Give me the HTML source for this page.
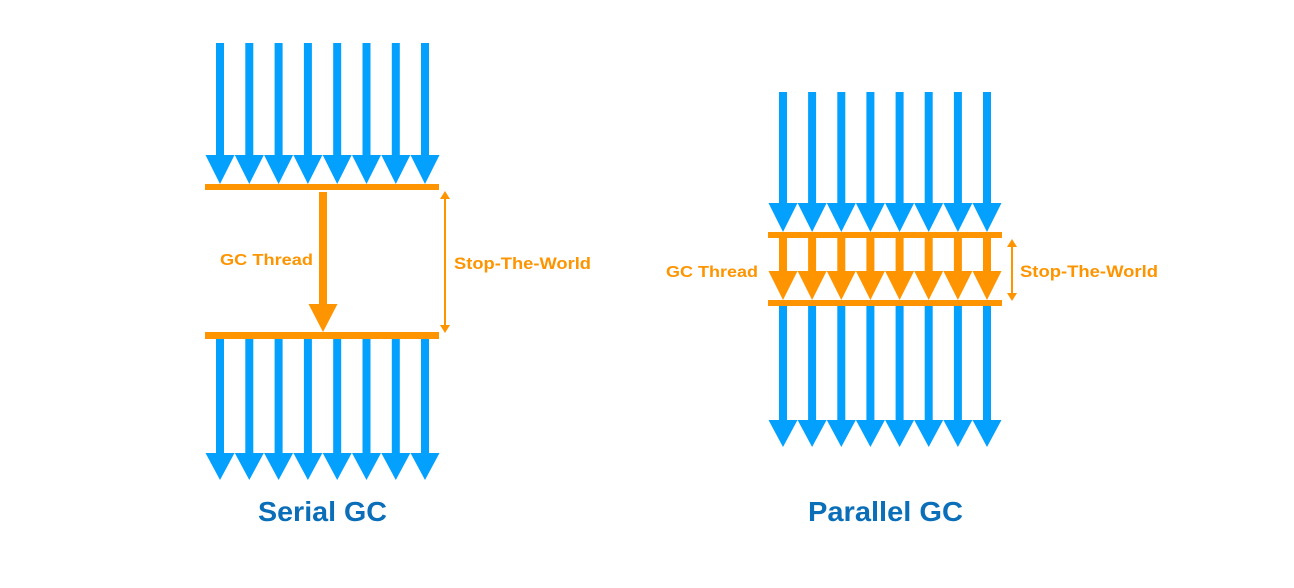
<!DOCTYPE html>
<html><head><meta charset="utf-8"><style>
html,body{margin:0;padding:0;background:#fff;}
svg{display:block}
text{font-family:"Liberation Sans",Arial,sans-serif;font-weight:bold}
</style></head><body>
<svg width="1294" height="588" viewBox="0 0 1294 588" xmlns="http://www.w3.org/2000/svg">
<defs>
<symbol id="b1" overflow="visible"><path d="M-4 0H4V112H14.5L0 141L-14.5 112H-4Z" fill="#03a0fe"/></symbol>
<symbol id="b2" overflow="visible"><path d="M-4 0H4V114H14.5L0 141L-14.5 114H-4Z" fill="#03a0fe"/></symbol>
<symbol id="p1" overflow="visible"><path d="M-4 0H4V111H14.5L0 140L-14.5 111H-4Z" fill="#03a0fe"/></symbol>
<symbol id="p2" overflow="visible"><path d="M-4 0H4V114H14.5L0 141L-14.5 114H-4Z" fill="#03a0fe"/></symbol>
<symbol id="o1" overflow="visible"><path d="M-4 0H4V33H14.5L0 62L-14.5 33H-4Z" fill="#fe9400"/></symbol>
</defs>
<!-- Serial -->
<g>
<use href="#b1" x="220" y="43"/><use href="#b1" x="249.3" y="43"/><use href="#b1" x="278.6" y="43"/><use href="#b1" x="307.9" y="43"/><use href="#b1" x="337.2" y="43"/><use href="#b1" x="366.5" y="43"/><use href="#b1" x="395.8" y="43"/><use href="#b1" x="425" y="43"/>
<rect x="205" y="184" width="234" height="6" fill="#fe9400"/>
<rect x="205" y="332" width="234" height="7" fill="#fe9400"/>
<use href="#b2" x="220" y="339"/><use href="#b2" x="249.3" y="339"/><use href="#b2" x="278.6" y="339"/><use href="#b2" x="307.9" y="339"/><use href="#b2" x="337.2" y="339"/><use href="#b2" x="366.5" y="339"/><use href="#b2" x="395.8" y="339"/><use href="#b2" x="425" y="339"/>
<path d="M319 192H327V304H337.5L323 332L308.5 304H319Z" fill="#fe9400"/>
<path d="M444 198V326H446V198Z" fill="#fe9400"/>
<path d="M445 191L440 199H450Z M445 333L440 325H450Z" fill="#fe9400"/>
<text x="220" y="265" font-size="16" fill="#fe9400" textLength="93" lengthAdjust="spacingAndGlyphs">GC Thread</text>
<text x="454" y="269" font-size="16.5" fill="#fe9400" textLength="137" lengthAdjust="spacingAndGlyphs">Stop-The-World</text>
<text x="258" y="521" font-size="28" fill="#0a6fb8" textLength="129" lengthAdjust="spacingAndGlyphs">Serial GC</text>
</g>
<!-- Parallel -->
<g>
<use href="#p1" x="783" y="92"/><use href="#p1" x="812.1" y="92"/><use href="#p1" x="841.3" y="92"/><use href="#p1" x="870.4" y="92"/><use href="#p1" x="899.6" y="92"/><use href="#p1" x="928.7" y="92"/><use href="#p1" x="957.9" y="92"/><use href="#p1" x="987" y="92"/>
<rect x="768" y="232" width="234" height="6" fill="#fe9400"/>
<use href="#o1" x="783" y="238"/><use href="#o1" x="812.1" y="238"/><use href="#o1" x="841.3" y="238"/><use href="#o1" x="870.4" y="238"/><use href="#o1" x="899.6" y="238"/><use href="#o1" x="928.7" y="238"/><use href="#o1" x="957.9" y="238"/><use href="#o1" x="987" y="238"/>
<rect x="768" y="300" width="234" height="6" fill="#fe9400"/>
<use href="#p2" x="783" y="306"/><use href="#p2" x="812.1" y="306"/><use href="#p2" x="841.3" y="306"/><use href="#p2" x="870.4" y="306"/><use href="#p2" x="899.6" y="306"/><use href="#p2" x="928.7" y="306"/><use href="#p2" x="957.9" y="306"/><use href="#p2" x="987" y="306"/>
<path d="M1011 246V294H1013V246Z" fill="#fe9400"/>
<path d="M1012 239L1007 247H1017Z M1012 301L1007 293H1017Z" fill="#fe9400"/>
<text x="666" y="277" font-size="16" fill="#fe9400" textLength="92" lengthAdjust="spacingAndGlyphs">GC Thread</text>
<text x="1020" y="277" font-size="16.5" fill="#fe9400" textLength="138" lengthAdjust="spacingAndGlyphs">Stop-The-World</text>
<text x="808" y="521" font-size="28" fill="#0a6fb8" textLength="155" lengthAdjust="spacingAndGlyphs">Parallel GC</text>
</g>
</svg>
</body></html>
